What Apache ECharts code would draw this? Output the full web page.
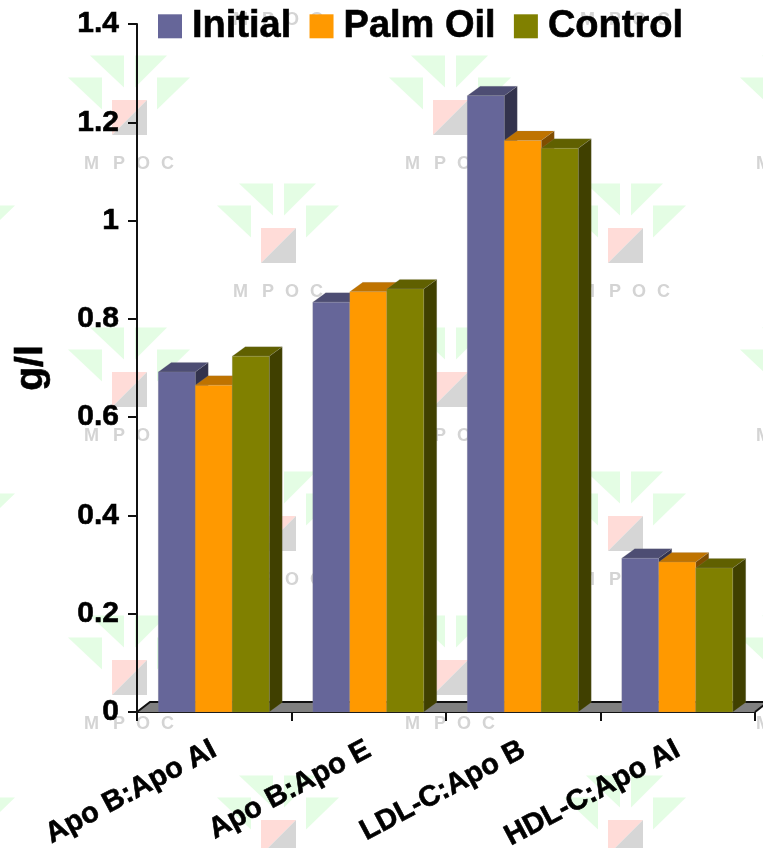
<!DOCTYPE html>
<html>
<head>
<meta charset="utf-8">
<style>html,body{margin:0;padding:0;background:#fff}#c{width:763px;height:848px}</style>
<script src="https://cdn.jsdelivr.net/npm/echarts@6/dist/echarts.min.js"></script>
</head>
<body>
<div id="c"></div>
<script>
const categories = ['Apo B:Apo AI', 'Apo B:Apo E', 'LDL-C:Apo B', 'HDL-C:Apo AI'];
const initial = [0.692, 0.834, 1.254, 0.313];
const palmOil = [0.665, 0.855, 1.163, 0.305];
const control = [0.724, 0.861, 1.147, 0.293];
const seriesNames = ['Initial', 'Palm Oil', 'Control'];

const FONT = '"Liberation Sans", Arial, sans-serif';
const DEPTH_X = 13, DEPTH_Y = 9.5, BAR_SHARE = 0.2395;

// front, top and side faces of each extruded column
const palette = [
  { front: '#666699', top: '#4d4d73', side: '#33334d' },
  { front: '#ff9900', top: '#bf7300', side: '#804d00' },
  { front: '#808000', top: '#606000', side: '#404000' }
];

function columnRenderer(seriesIndex) {
  const faces = palette[seriesIndex];
  return function (params, api) {
    const band = api.size([1, 0])[0];
    const w = band * BAR_SHARE;
    const base = api.coord([api.value(0), 0]);
    const head = api.coord([api.value(0), api.value(1)]);
    const x0 = base[0] - 1.5 * w + seriesIndex * w - 0.5;
    const x1 = x0 + w;
    const yTop = head[1], yBase = base[1];
    const edge = { stroke: 'rgba(150,150,150,0.35)', lineWidth: 0.5 };
    return {
      type: 'group',
      children: [
        { type: 'polygon', shape: { points: [[x1, yBase], [x1 + DEPTH_X, yBase - DEPTH_Y], [x1 + DEPTH_X, yTop - DEPTH_Y], [x1, yTop]] }, style: Object.assign({ fill: faces.side }, edge) },
        { type: 'polygon', shape: { points: [[x0, yTop], [x0 + DEPTH_X, yTop - DEPTH_Y], [x1 + DEPTH_X, yTop - DEPTH_Y], [x1, yTop]] }, style: Object.assign({ fill: faces.top }, edge) },
        { type: 'rect', shape: { x: x0, y: yTop, width: w, height: yBase - yTop }, style: Object.assign({ fill: faces.front }, edge) }
      ]
    };
  };
}

// gray floor plate running behind the columns
function floorRenderer(params) {
  const g = params.coordSys;
  const yBase = g.y + g.height, xEnd = g.x + g.width;
  const yBack = yBase - DEPTH_Y - 0.5;
  return {
    type: 'group',
    children: [
      { type: 'polygon', shape: { points: [[g.x, yBase], [g.x + DEPTH_X, yBack], [xEnd + DEPTH_X, yBack], [xEnd, yBase]] }, style: { fill: '#808080' } },
      { type: 'polyline', shape: { points: [[g.x, yBase], [g.x + DEPTH_X, yBack], [xEnd + DEPTH_X, yBack]] }, style: { fill: 'none', stroke: '#111', lineWidth: 2 } },
      { type: 'line', shape: { x1: xEnd, y1: yBase, x2: xEnd + DEPTH_X, y2: yBack }, style: { stroke: '#111', lineWidth: 2 } }
    ]
  };
}

// faint repeating MPOC logo across the background
function logo(sx, sy) {
  const green = '#e4fde4';
  const tri = (pts) => ({
    type: 'polygon', z: -10,
    shape: { points: pts.map(p => [sx + p[0], sy + p[1]]) },
    style: { fill: green }
  });
  const letters = [['M', -28], ['P', 1], ['O', 24], ['C', 49]].map(l => ({
    type: 'text', z: -10, x: sx + l[1], y: sy + 64,
    style: { text: l[0], fill: '#d4d4d4', font: 'bold 18px ' + FONT, verticalAlign: 'middle' }
  }));
  return [
    tri([[-22, -44.5], [12, -44.5], [12, -12.5]]),
    tri([[23, -44.5], [55, -44.5], [23, -12.5]]),
    tri([[-44, -22.5], [-10, -22.5], [-10, 9.5]]),
    tri([[45, -22.5], [78, -22.5], [45, 9.5]]),
    { type: 'polygon', z: -10, shape: { points: [[sx, sy], [sx + 35, sy], [sx, sy + 35]] }, style: { fill: '#ffdcd8' } },
    { type: 'polygon', z: -10, shape: { points: [[sx + 35, sy], [sx + 35, sy + 35], [sx, sy + 35]] }, style: { fill: '#d6d6d6' } }
  ].concat(letters);
}

const oddRows = [-44, 228, 516, 820];
const evenRows = [100, 372, 660];
const oddColumns = [-63, 261, 608];
const evenColumns = [112, 433, 784];
let marks = [];
oddRows.forEach(y => oddColumns.forEach(x => { marks = marks.concat(logo(x, y)); }));
evenRows.forEach(y => evenColumns.forEach(x => { marks = marks.concat(logo(x, y)); }));

const valueSets = [initial, palmOil, control];
const heavy = { textBorderColor: '#000', textBorderWidth: 0.6 };

const chart = echarts.init(document.getElementById('c'), null, { renderer: 'canvas' });
chart.setOption({
  animation: false,
  backgroundColor: '#ffffff',
  textStyle: { fontFamily: FONT },
  graphic: { elements: marks },
  grid: { left: 137, right: 8, top: 24, bottom: 136, outerBoundsMode: 'none' },
  legend: {
    left: 158, top: 7, padding: 0, itemWidth: 24, itemHeight: 24, itemGap: 18,
    icon: 'rect',
    data: seriesNames,
    textStyle: Object.assign({ fontFamily: FONT, fontSize: 38, fontWeight: 'bold', color: '#000', padding: [0, 0, 0, 5] }, heavy),
    selectedMode: false
  },
  xAxis: {
    type: 'category',
    data: categories,
    boundaryGap: true,
    axisLine: { lineStyle: { color: '#111', width: 2 } },
    axisTick: { show: true, length: 9, alignWithLabel: false, lineStyle: { color: '#111', width: 2 } },
    axisLabel: Object.assign({
      interval: 0, rotate: 28, margin: 36,
      color: '#000', fontFamily: FONT, fontWeight: 'bold', fontSize: 29
    }, heavy),
    splitLine: { show: false }
  },
  yAxis: {
    type: 'value',
    min: 0, max: 1.4, interval: 0.2,
    name: 'g/l',
    nameLocation: 'middle',
    nameGap: 86,
    nameRotate: 90,
    nameTextStyle: Object.assign({ fontFamily: FONT, fontWeight: 'bold', fontSize: 39, color: '#000' }, heavy),
    axisLine: { show: true, lineStyle: { color: '#111', width: 2 } },
    axisTick: { show: true, length: 9, lineStyle: { color: '#111', width: 2 } },
    axisLabel: Object.assign({ margin: 18, color: '#000', fontFamily: FONT, fontWeight: 'bold', fontSize: 30 }, heavy),
    splitLine: { show: false }
  },
  series: [
    { type: 'custom', silent: true, z: 1, renderItem: floorRenderer, data: [[0, 0]], encode: { x: 0, y: 1 } }
  ].concat(seriesNames.map((name, s) => ({
    type: 'custom',
    name: name,
    silent: true,
    z: 2 + s,
    itemStyle: { color: palette[s].front },
    renderItem: columnRenderer(s),
    encode: { x: 0, y: 1 },
    data: valueSets[s].map((v, i) => [i, v])
  })))
});
</script>
</body>
</html>
